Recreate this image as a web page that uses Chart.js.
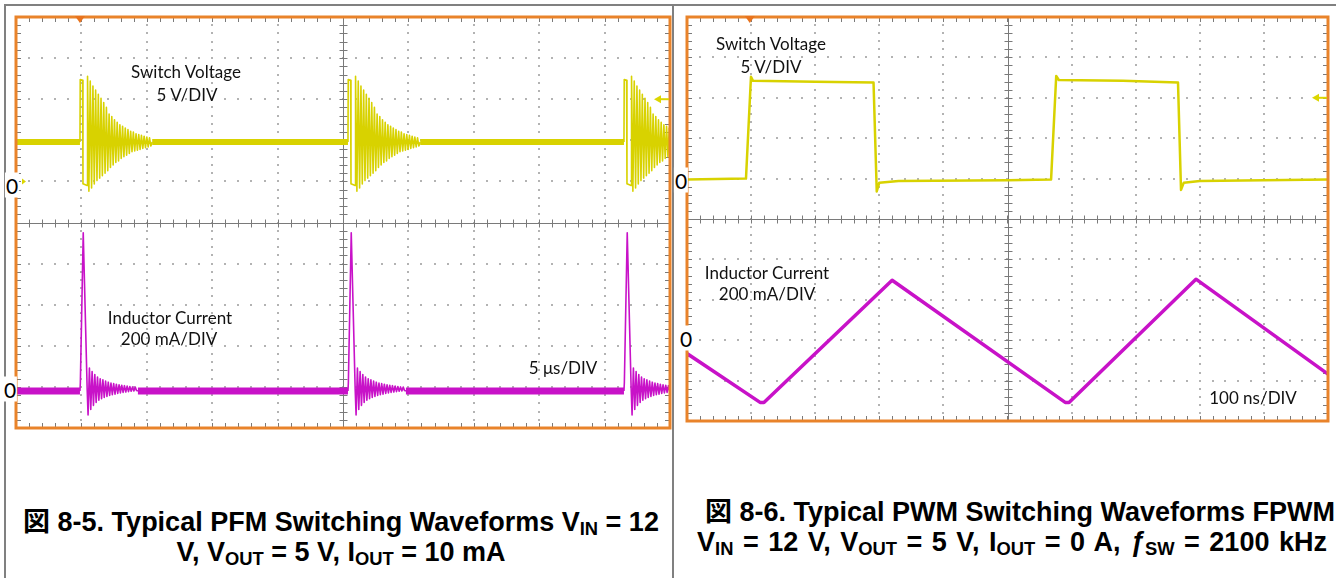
<!DOCTYPE html>
<html>
<head>
<meta charset="utf-8">
<script src="https://cdn.jsdelivr.net/npm/chart.js@4.4.1/dist/chart.umd.min.js"></script>
<style>
  body { margin: 0; background: #fff; width: 1336px; height: 578px; position: relative; overflow: hidden; }
  canvas { position: absolute; }
  .rule { position: absolute; background: #808080; }
  .lbl { position: absolute; transform: translate(-50%, -50%); white-space: nowrap; font: 17px Lato, "Open Sans", sans-serif; color: #111; line-height: 1; }
  .zero { position: absolute; transform: translate(-50%, -50%); font: 21px Lato, sans-serif; background: #fff; color: #000; line-height: 1; padding: 2px 1px; }
  .cap { position: absolute; transform: translate(-50%, -50%); white-space: nowrap; font: bold 27px "Liberation Sans", Arial, "Noto Sans CJK JP", sans-serif; color: #000; line-height: 1; }
  .cap sub { font-size: 0.68em; vertical-align: -0.22em; line-height: 0; }
</style>
</head>
<body>
<div class="rule" style="left:4px; top:4px; width:1332px; height:2px"></div>
<div class="rule" style="left:4px; top:4px; width:2px; height:574px"></div>
<div class="rule" style="left:672px; top:4px; width:2px; height:574px"></div>

<canvas id="pfm" width="673" height="440" style="left:0; top:0"></canvas>
<canvas id="pwm" width="662" height="430" style="left:674px; top:0"></canvas>

<div class="lbl" style="left:186px; top:71px">Switch Voltage</div>
<div class="lbl" style="left:187px; top:94px">5 V/DIV</div>
<div class="lbl" style="left:170px; top:317px">Inductor Current</div>
<div class="lbl" style="left:169px; top:338px">200 mA/DIV</div>
<div class="lbl" style="left:563px; top:367px">5 μs/DIV</div>
<div class="zero" style="left:12px; top:185px">0</div>
<div class="zero" style="left:10px; top:389px">0</div>

<div class="lbl" style="left:771px; top:43px">Switch Voltage</div>
<div class="lbl" style="left:771px; top:66px">5 V/DIV</div>
<div class="lbl" style="left:767px; top:272px">Inductor Current</div>
<div class="lbl" style="left:767px; top:293px">200 mA/DIV</div>
<div class="lbl" style="left:1253px; top:397px">100 ns/DIV</div>
<div class="zero" style="left:681px; top:180px">0</div>
<div class="zero" style="left:686px; top:338px">0</div>

<div class="cap" style="left:341px; top:522px">図 8-5. Typical PFM Switching Waveforms V<sub>IN</sub> = 12</div>
<div class="cap" style="left:341px; top:552px">V, V<sub>OUT</sub> = 5 V, I<sub>OUT</sub> = 10 mA</div>
<div class="cap" style="left:1020px; top:512px">図 8-6. Typical PWM Switching Waveforms FPWM</div>
<div class="cap" style="left:1012px; top:542px; word-spacing:2px">V<sub>IN</sub> = 12 V, V<sub>OUT</sub> = 5 V, I<sub>OUT</sub> = 0 A, <i>ƒ</i><sub>SW</sub> = 2100 kHz</div>

<script>
// ---- PFM capture (left): time in µs, 5 µs/div ----
const pfmPulseStarts = [4.89, 25.38, 46.48];
const pfmSwBase = 4.8;
// one burst, times relative to the pulse start
const pfmSwT = [0, 0.02, 0.2, 0.23, 0.55];
const pfmSwV = [4.8, 12.4, 12.3, -0.3, -0.5];
const pfmSwRingStart = 0.58;
const pfmSwRing = [12.8, -1.2, 12.2, -0.8, 11.6, -0.3, 11.1, 0.1, 10.6, 0.4, 10.1, 0.7,
  9.6, 1.0, 9.0, 1.3, 8.2, 1.7, 7.9, 2.0, 7.5, 2.3, 7.2, 2.5, 6.9, 2.8, 6.7, 3.0,
  6.5, 3.2, 6.3, 3.4, 6.1, 3.6, 6.0, 3.7, 5.8, 3.8, 5.7, 3.9, 5.6, 4.0, 5.5, 4.1,
  5.4, 4.2, 5.3, 4.3];
const pfmIlBase = -10;
const pfmIlT = [0, 0.03, 0.25, 0.55];
const pfmIlI = [-10, 30, 760, 0];
const pfmIlRingStart = 0.62;
const pfmIlRing = [-127, 102, -100, 85, -80, 70, -66, 58, -55, 50, -47, 44, -41, 38,
  -36, 33, -32, 29, -28, 26, -25, 23, -22, 20, -19, 18, -17, 16, -15, 14, -13, 12,
  -11, 10, -10, 9, -8];
const ringStep = 0.103;
const pfmTrigger = 4.89;
const pfmTrigLevel = 10;

// ---- PWM capture (right): time in ns, 100 ns/div ----
const pwmSwT = [0, 92, 99.8, 103, 200, 291, 296, 300, 330, 500, 568, 576, 580, 680, 766, 770.7, 775, 800, 1000];
const pwmSwV = [-0.1, 0, 12.6, 12.1, 12.0, 11.9, -1.6, -0.5, -0.3, -0.2, -0.1, 12.7, 12.2, 12.1, 11.9, -1.4, -0.5, -0.3, -0.1];
const pwmIlT = [0, 114, 120, 320, 590, 596, 794, 1000];
const pwmIlI = [-76, -318, -318, 287, -318, -318, 292, -178];
const pwmTrigger = 98;
const pwmTrigLevel = 10;

function burstPoints(starts, tplT, tplV, ringStart, ring, base, end) {
  const pts = [{x: 0, y: base}];
  starts.forEach(s => {
    tplT.forEach((t, i) => pts.push({x: s + t, y: tplV[i]}));
    ring.forEach((v, i) => pts.push({x: s + ringStart + i * ringStep, y: v}));
    pts.push({x: s + ringStart + ring.length * ringStep, y: base});
  });
  pts.push({x: end, y: base});
  return pts;
}
const zip = (xs, ys) => xs.map((x, i) => ({x: x, y: ys[i]}));

const scopeGrid = {
  id: 'scopeGrid',
  beforeDatasetsDraw(chart) {
    const ctx = chart.ctx, a = chart.chartArea;
    const dx = (a.right - a.left) / 10, dy = (a.bottom - a.top) / 10;
    ctx.save();
    ctx.fillStyle = '#b3b3b3';
    for (let i = 1; i < 10; i++) {
      if (i === 5) continue;
      const x = Math.round(a.left + i * dx), y = Math.round(a.top + i * dy);
      for (let j = 1; j < 50; j++) {
        ctx.fillRect(x - 1, Math.round(a.top + j * dy / 5) - 1, 2, 2);
        ctx.fillRect(Math.round(a.left + j * dx / 5) - 1, y - 1, 2, 2);
      }
    }
    ctx.strokeStyle = '#7a7a7a';
    ctx.lineWidth = 1;
    const cx = Math.round(a.left + 5 * dx) + 0.5, cy = Math.round(a.top + 5 * dy) + 0.5;
    ctx.beginPath();
    ctx.moveTo(a.left, cy); ctx.lineTo(a.right, cy);
    ctx.moveTo(cx, a.top); ctx.lineTo(cx, a.bottom);
    for (let j = 1; j < 50; j++) {
      const x = Math.round(a.left + j * dx / 5) + 0.5, y = Math.round(a.top + j * dy / 5) + 0.5;
      ctx.moveTo(x, cy - 4); ctx.lineTo(x, cy + 4);
      ctx.moveTo(cx - 4, y); ctx.lineTo(cx + 4, y);
      ctx.moveTo(x, a.top); ctx.lineTo(x, a.top + 5);
      ctx.moveTo(x, a.bottom); ctx.lineTo(x, a.bottom - 5);
      ctx.moveTo(a.left, y); ctx.lineTo(a.left + 5, y);
      ctx.moveTo(a.right, y); ctx.lineTo(a.right - 5, y);
    }
    ctx.stroke();
    ctx.restore();
  },
  afterDatasetsDraw(chart, args, opts) {
    const ctx = chart.ctx, a = chart.chartArea;
    ctx.save();
    ctx.strokeStyle = '#e9832a';
    ctx.lineWidth = 3;
    ctx.strokeRect(a.left, a.top, a.right - a.left, a.bottom - a.top);
    // trigger position
    const tx = chart.scales.x.getPixelForValue(opts.trigger);
    ctx.fillStyle = '#e8731e';
    ctx.beginPath();
    ctx.moveTo(tx - 5, a.top - 1); ctx.lineTo(tx + 5, a.top - 1); ctx.lineTo(tx, a.top + 6);
    ctx.fill();
    // trigger level
    const ty = chart.scales.yv.getPixelForValue(opts.level);
    ctx.strokeStyle = ctx.fillStyle = '#dcd600';
    ctx.lineWidth = 2;
    ctx.beginPath();
    ctx.moveTo(a.right - 10, ty); ctx.lineTo(a.right - 1, ty);
    ctx.stroke();
    ctx.beginPath();
    ctx.moveTo(a.right - 16, ty); ctx.lineTo(a.right - 9, ty - 4); ctx.lineTo(a.right - 9, ty + 4);
    ctx.fill();
    if (opts.chMarker) {
      const zy = chart.scales.yv.getPixelForValue(0);
      ctx.beginPath();
      ctx.moveTo(a.left + 6, zy - 3); ctx.lineTo(a.left + 6, zy + 3); ctx.lineTo(a.left + 10, zy);
      ctx.fill();
    }
    ctx.restore();
  }
};

const YELLOW = '#d8d200', MAGENTA = '#c812c8';
const thickBase = w => ctx => (ctx.p1.parsed.x - ctx.p0.parsed.x > 0.5 ? w : 1.6);

function scopeOptions(xMax, vMin, vMax, iMin, iMax, pad, plug) {
  return {
    responsive: false,
    animation: false,
    devicePixelRatio: 1,
    layout: { padding: pad },
    plugins: { legend: { display: false }, tooltip: { enabled: false }, scopeGrid: plug },
    scales: {
      x: { type: 'linear', min: 0, max: xMax, display: false },
      yv: { type: 'linear', min: vMin, max: vMax, display: false },
      yi: { type: 'linear', min: iMin, max: iMax, display: false }
    },
    elements: { point: { radius: 0 }, line: { tension: 0, borderJoinStyle: 'round' } }
  };
}

new Chart(document.getElementById('pfm'), {
  type: 'line',
  data: {
    datasets: [
      { label: 'Inductor Current', data: burstPoints(pfmPulseStarts, pfmIlT, pfmIlI, pfmIlRingStart, pfmIlRing, pfmIlBase, 50),
        yAxisID: 'yi', borderColor: MAGENTA, borderWidth: 1.6, clip: 0, segment: { borderWidth: thickBase(7) } },
      { label: 'Switch Voltage', data: burstPoints(pfmPulseStarts, pfmSwT, pfmSwV, pfmSwRingStart, pfmSwRing, pfmSwBase, 50),
        yAxisID: 'yv', borderColor: YELLOW, borderWidth: 1.6, clip: 0, segment: { borderWidth: thickBase(6) } }
    ]
  },
  options: scopeOptions(50, -30, 20, -190, 1810, { left: 16, top: 17, right: 3, bottom: 12 },
    { trigger: pfmTrigger, level: pfmTrigLevel, chMarker: true }),
  plugins: [scopeGrid]
});

new Chart(document.getElementById('pwm'), {
  type: 'line',
  data: {
    datasets: [
      { label: 'Inductor Current', data: zip(pwmIlT, pwmIlI), yAxisID: 'yi', borderColor: MAGENTA, borderWidth: 3.5, clip: 0 },
      { label: 'Switch Voltage', data: zip(pwmSwT, pwmSwV), yAxisID: 'yv', borderColor: YELLOW, borderWidth: 2.5, clip: 0 }
    ]
  },
  options: scopeOptions(1000, -30, 20, -410, 1590, { left: 13, top: 17, right: 8, bottom: 9 },
    { trigger: pwmTrigger, level: pwmTrigLevel, chMarker: false }),
  plugins: [scopeGrid]
});
</script>
</body>
</html>
